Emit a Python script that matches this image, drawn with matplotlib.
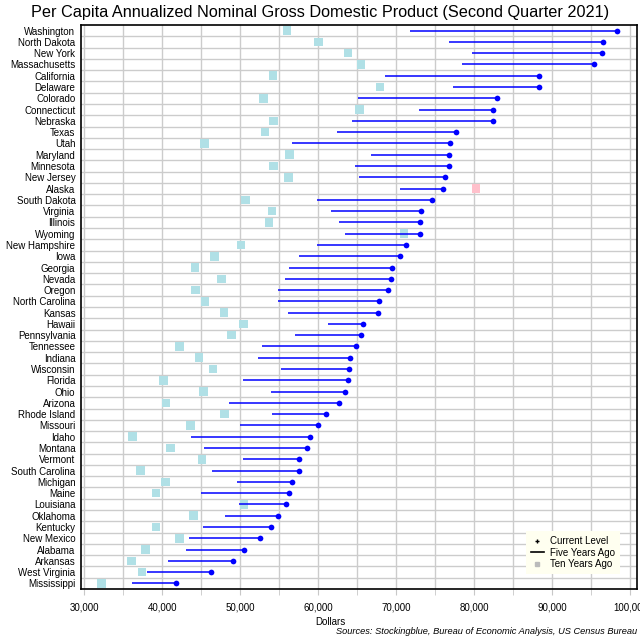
import matplotlib
matplotlib.use("Agg")
import matplotlib.pyplot as plt
from matplotlib.lines import Line2D
from matplotlib.ticker import MultipleLocator, FuncFormatter

plt.rcParams['font.family'] = ['Liberation Sans', 'DejaVu Sans']

states = ["Washington", "North Dakota", "New York", "Massachusetts", "California",
          "Delaware", "Colorado", "Connecticut", "Nebraska", "Texas", "Utah",
          "Maryland", "Minnesota", "New Jersey", "Alaska", "South Dakota",
          "Virginia", "Illinois", "Wyoming", "New Hampshire", "Iowa", "Georgia",
          "Nevada", "Oregon", "North Carolina", "Kansas", "Hawaii", "Pennsylvania",
          "Tennessee", "Indiana", "Wisconsin", "Florida", "Ohio", "Arizona",
          "Rhode Island", "Missouri", "Idaho", "Montana", "Vermont",
          "South Carolina", "Michigan", "Maine", "Louisiana", "Oklahoma",
          "Kentucky", "New Mexico", "Alabama", "Arkansas", "West Virginia",
          "Mississippi"]

current = [98300, 96500, 96400, 95300, 88300, 88300, 82900, 82400, 82400, 77600,
           76900, 76800, 76800, 76300, 76000, 74600, 73200, 73000, 73000, 71300,
           70500, 69500, 69300, 69000, 67800, 67700, 65800, 65500, 64800, 64100,
           63900, 63800, 63400, 62600, 61000, 60000, 58900, 58500, 57600, 57500,
           56600, 56200, 55900, 54800, 54000, 52600, 50500, 49100, 46300, 41800]

five_years = [71800, 76700, 79700, 78400, 68500, 77300, 65100, 72900, 64300, 62400,
              56700, 66800, 64700, 65200, 70500, 59900, 61700, 62600, 63400, 59800,
              57600, 56300, 55800, 54900, 54900, 56100, 61300, 57000, 52800, 52300,
              55200, 50400, 53900, 48600, 54100, 50000, 43700, 45300, 50400, 46400,
              49600, 45000, 49800, 48100, 45200, 43500, 43000, 40700, 38000, 36100]

ten_years = [56000, 60000, 63800, 65500, 54200, 67900, 53000, 65300, 54300, 53200,
             45400, 56300, 54300, 56200, 80200, 50700, 54100, 53700, 71000, 50100,
             46700, 44200, 47600, 44300, 45500, 47900, 50400, 48900, 42200, 44700,
             46500, 40200, 45300, 40500, 48000, 43600, 36200, 41100, 45100, 37200,
             40400, 39200, 50500, 44000, 39200, 42200, 37900, 36100, 37400, 32200]

x_ticks = [30000, 40000, 50000, 60000, 70000, 80000, 90000, 100000]

fig = plt.figure(figsize=(6.4, 6.4), dpi=100)
ax = fig.add_axes([81/640, 1-589/640, 556/640, 564/640])

y = list(range(len(states)))

sq_colors = ['#FFC0CB' if t > c else '#B0E0E6' for t, c in zip(ten_years, current)]
ax.scatter(ten_years, y, marker='s', s=38, c=sq_colors, linewidths=0, zorder=3)
ax.hlines(y, five_years, current, colors='#0000FF', linewidth=1.1, zorder=4)
ax.scatter(current, y, marker='o', s=17, c='#0000FF', linewidths=0, zorder=5)

ax.set_ylim(len(states) - 0.5, -0.5)
ax.set_xlim(29600, 100850)

ax.set_yticks(y)
ax.set_yticklabels(states, fontsize=7.0)
ax.set_yticks([i + 0.5 for i in range(len(states) - 1)], minor=True)
ax.tick_params(axis='y', which='both', length=0, pad=4)

ax.set_xticks(x_ticks)
ax.xaxis.set_minor_locator(MultipleLocator(5000))
ax.xaxis.set_major_formatter(FuncFormatter(lambda v, p: f"{int(v):,}"))
ax.tick_params(axis='x', which='both', length=4, color='#C8C8C8', labelsize=7.0, pad=6)

ax.grid(True, which='major', axis='x', color='#CCCCCC', linewidth=1)
ax.grid(True, which='minor', axis='x', color='#CCCCCC', linewidth=1)
ax.grid(True, which='minor', axis='y', color='#CCCCCC', linewidth=1)
ax.set_axisbelow(True)

for s in ax.spines.values():
    s.set_color('black')
    s.set_linewidth(1.2)

fig.text(0.5, 1 - 12/640, "Per Capita Annualized Nominal Gross Domestic Product (Second Quarter 2021)",
         ha='center', va='center', fontsize=11.7)
fig.text(330/640, 1 - 622/640, "Dollars", ha='center', va='center', fontsize=7.0)
fig.text(637/640, 1 - 632/640, "Sources: Stockingblue, Bureau of Economic Analysis, US Census Bureau",
         ha='right', va='center', fontsize=6.7, style='italic')

handles = [Line2D([], [], color='black', marker='+', markersize=3, linestyle='none'),
           Line2D([], [], color='black', linewidth=1.2),
           Line2D([], [], color='#BBBBBB', marker='s', markersize=3, linestyle='none')]
leg = ax.legend(handles, ["Current Level", "Five Years Ago", "Ten Years Ago"],
                loc='lower right', bbox_to_anchor=(0.978, 0.018), fontsize=7,
                frameon=True, fancybox=False, facecolor='#FFFFF0', edgecolor='none',
                framealpha=1, handlelength=1.4, handletextpad=0.6, borderpad=0.5,
                labelspacing=0.15)

fig.savefig("out.png", dpi=100)
